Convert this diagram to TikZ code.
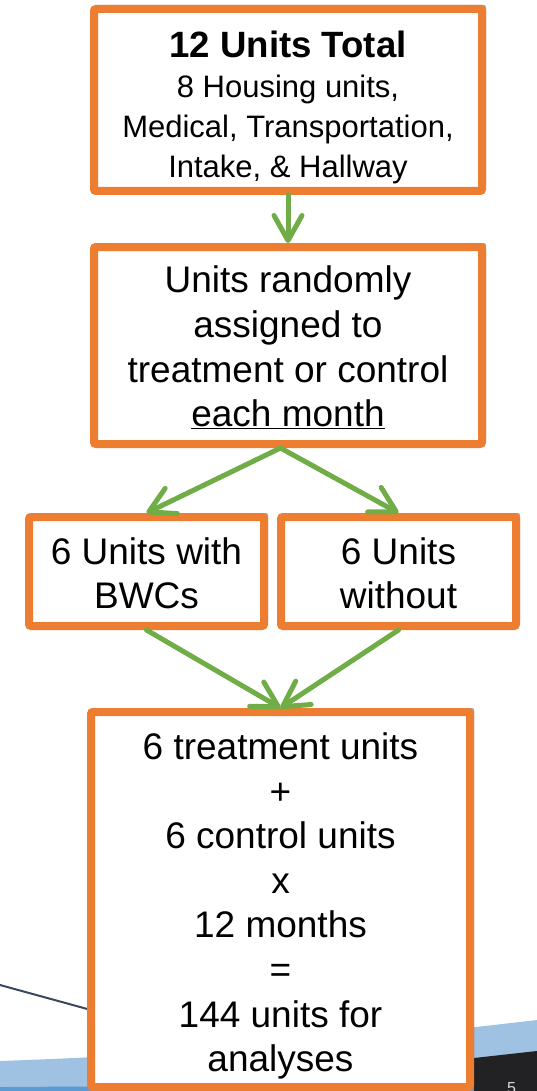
\documentclass[tikz,border=0pt]{standalone}
\usepackage{fontspec}
\setmainfont{Liberation Sans}
\usepackage{tikz}
\definecolor{Brdr}{RGB}{237,125,49}
\definecolor{Arrw}{RGB}{112,173,71}
\definecolor{Swsh}{RGB}{160,194,226}
\definecolor{Swsh1}{RGB}{91,155,213}
\definecolor{Dark}{RGB}{34,34,36}
\definecolor{Call}{RGB}{58,72,94}
\usetikzlibrary{shadows, arrows.meta}

\tikzset{
    unitbox/.style={draw=Brdr, fill=white, line width=8, rounded corners=2,
                    align=center, inner sep=0,
                    drop shadow={shadow xshift=4, shadow yshift=-4,
                    opacity=0.35, fill=black},
                    font=\fontsize{37}{44.6}\selectfont},
    flow/.style={draw=Arrw, line width=5, line cap=round,
                 -{Straight Barb[round, length=25, width=28]}}
}

\begin{document}
\begin{tikzpicture}[x=1pt, y=-1pt]
    \useasboundingbox (0,0) rectangle (537,1091);
    \fill[white] (0,0) rectangle (537,1091);
    \fill[Swsh] (0,1061) .. controls (250,1052) and (400,1036) .. (537,1020)
                -- (537,1091) -- (0,1091) -- cycle;
    \fill[Swsh1] (0,1087) -- (537,1084) -- (537,1091) -- (0,1091) -- cycle;
    \fill[Dark] (474,1058) -- (537,1051) -- (537,1091) -- (474,1091) -- cycle;
    \node [anchor=north west, text=white!85!black, inner sep=0,
           font=\fontsize{16}{16}\selectfont] (pagenum) at (507,1082) {5};

    \coordinate (callout) at (0,985);
    \coordinate (callend) at (91,1010);
    \draw [Call, line width=2] (callout) -- (callend);

    \node [unitbox, minimum width=388, minimum height=182,
           font=\fontsize{31}{40}\selectfont] (total) at (288,100)
        {\rule{0pt}{42pt}{\bfseries\fontsize{36.6}{40}\selectfont 12 Units Total}\\
         8 Housing units,\\ Medical, Transportation,\\ Intake, \& Hallway};
    \node [unitbox, minimum width=388, minimum height=197] (assign) at (288,345.5)
        {\rule{0pt}{31pt}Units randomly\\ assigned to\\ treatment or control\\
         \underline{each month}};
    \node [unitbox, minimum width=235, minimum height=109] (with) at (146.5,571.5)
        {\rule{0pt}{30pt}6 Units with\\ BWCs};
    \node [unitbox, minimum width=235, minimum height=109] (without) at (398.5,571.5)
        {\rule{0pt}{30pt}6 Units\\ without};
    \node [unitbox, minimum width=379, minimum height=375] (result) at (280.5,899.5)
        {\rule{0pt}{40pt}6 treatment units\\ +\\ 6 control units\\ x\\ 12 months\\ =\\
         144 units for\\ analyses};

    \draw [flow] (total) -- (assign);
    \draw [flow] (assign.south -| result.north) -- (with.north);
    \draw [flow] (assign.south -| result.north) -- (without.north);
    \draw [flow] (with.south) -- (result.north);
    \draw [flow] (without.south) -- (result.north);
\end{tikzpicture}
\end{document}
